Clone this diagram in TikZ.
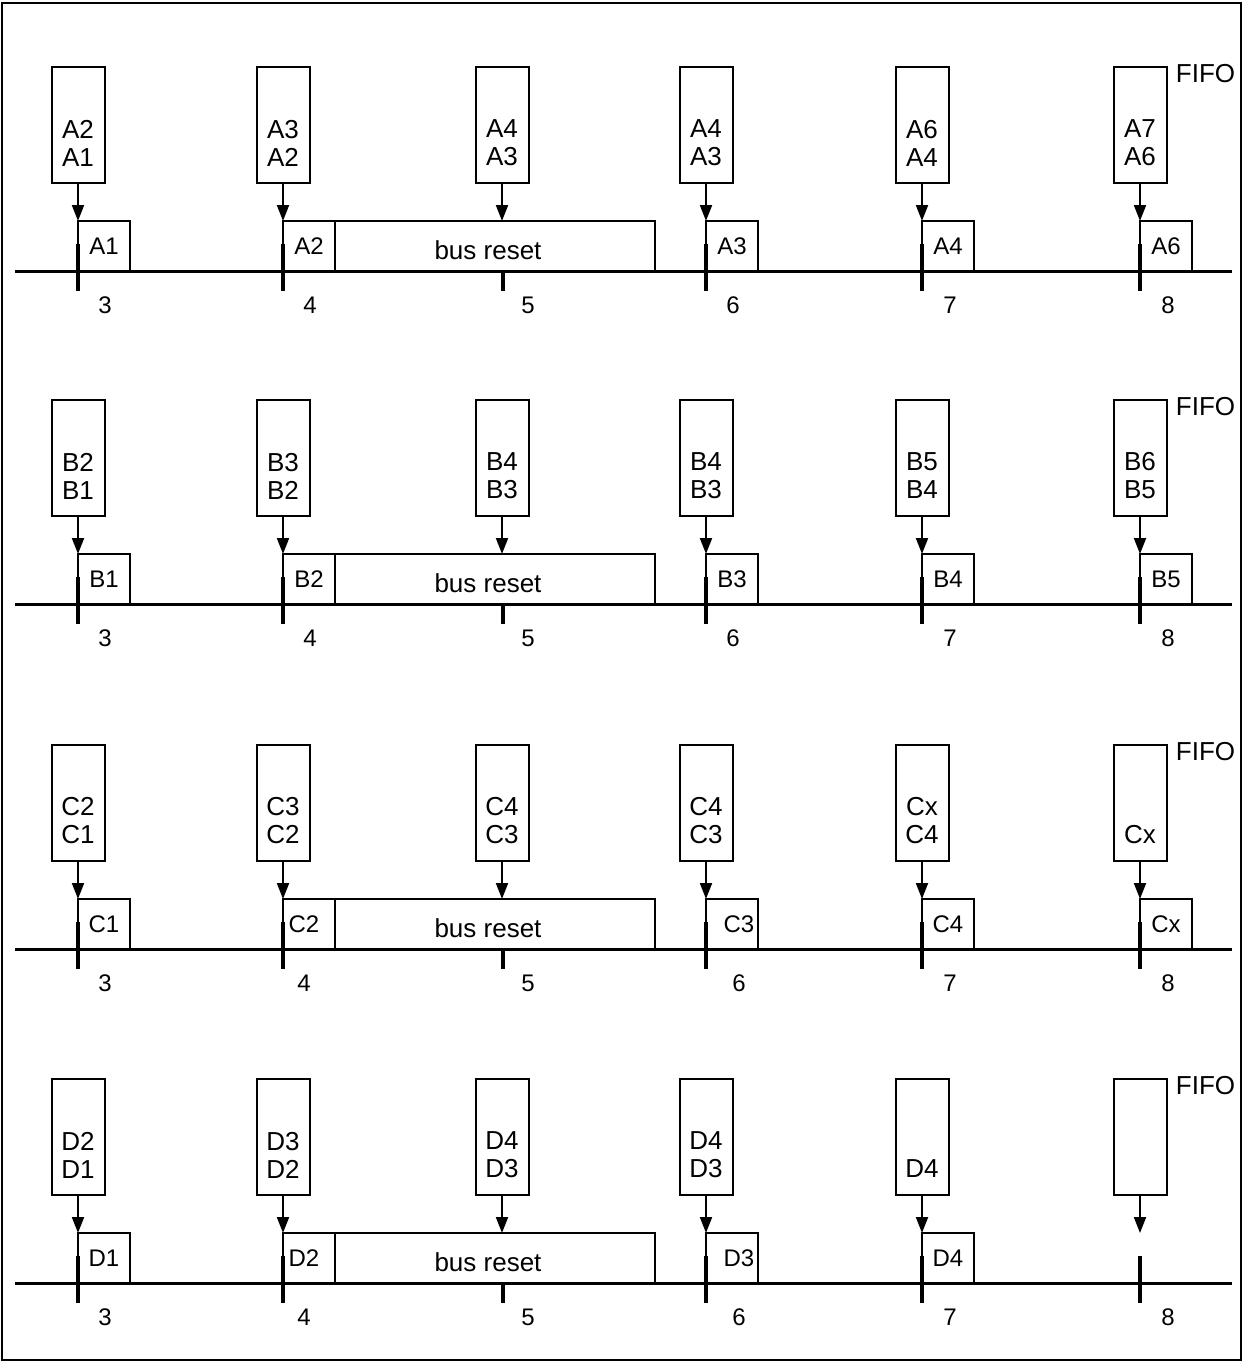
\documentclass[tikz,border=0pt]{standalone}
\usepackage{fontspec}
\setmainfont{Liberation Sans}
\usetikzlibrary{arrows.meta,positioning}
\tikzset{
  fifo/.style  ={draw, line width=1pt, minimum width=26.5pt, minimum height=58pt, inner sep=0pt},
  ftxt/.style  ={align=center, inner sep=0pt, font=\fontsize{13}{14}\selectfont},
  slot/.style  ={draw, line width=1pt, minimum width=26pt, minimum height=25pt, inner sep=0pt,
                 outer sep=0pt, anchor=south west, font=\fontsize{12}{14}\selectfont},
  rst/.style   ={slot, minimum width=160pt, font=\fontsize{13}{14}\selectfont},
  num/.style   ={inner sep=0pt, font=\fontsize{12}{14}\selectfont},
  tag/.style   ={anchor=north west, inner sep=0pt, font=\fontsize{13}{14}\selectfont},
  ar/.style    ={-{Triangle[length=8pt,width=6pt]}, line width=1pt},
  tck/.style   ={line width=2pt},
  bus/.style   ={line width=1.5pt},
}
\begin{document}
\begin{tikzpicture}[x=0.5pt, y=-0.5pt]
\useasboundingbox (0,0) rectangle (1243,1362);
\draw[line width=1pt] (2,3) rectangle (1241,1360);

% row A
\draw[bus] (15,271) -- (1232,271);
\node[fifo] (fa1) at (78,125) {};   \node[ftxt] (fa1t) at ([yshift=-9pt]fa1.center) {A2\\A1};
\node[fifo] (fa2) at (283,125) {};  \node[ftxt] (fa2t) at ([yshift=-9pt]fa2.center) {A3\\A2};
\node[fifo] (fa3) at (502,125) {};  \node[ftxt] (fa3t) at ([yshift=-9pt]fa3.center) {A4\\A3};
\node[fifo] (fa4) at (706,125) {};  \node[ftxt] (fa4t) at ([yshift=-9pt]fa4.center) {A4\\A3};
\node[fifo] (fa5) at (922,125) {};  \node[ftxt] (fa5t) at ([yshift=-9pt]fa5.center) {A6\\A4};
\node[fifo] (fa6) at (1140,125) {}; \node[ftxt] (fa6t) at ([yshift=-9pt]fa6.center) {A7\\A6};
\node[tag] (fifoa) at ([xshift=4pt,yshift=1pt]fa6.north east) {FIFO};
\node[slot] (sa1) at (78,271) {A1};
\node[slot] (sa2) at (283,271) {A2};
\node[rst, right=0pt of sa2] (ra) {\smash{\raisebox{-6.5pt}{bus reset}}\hspace*{7pt}};
\node[slot] (sa4) at (706,271) {A3};
\node[slot] (sa5) at (922,271) {A4};
\node[slot] (sa6) at (1140,271) {A6};
\draw[ar] (fa1.south) -- (sa1.north west); \draw[ar] (fa2.south) -- (sa2.north west);
\draw[ar] (fa3.south) -- (fa3.south |- ra.north); \draw[ar] (fa4.south) -- (sa4.north west);
\draw[ar] (fa5.south) -- (sa5.north west); \draw[ar] (fa6.south) -- (sa6.north west);
\draw[tck] (78,244) -- (78,291); \draw[tck] (283,244) -- (283,291); \draw[tck] (503,271) -- (503,291);
\draw[tck] (706,244) -- (706,291); \draw[tck] (922,244) -- (922,291); \draw[tck] (1140,244) -- (1140,291);
\node[num] (na1) at (105,305) {3};  \node[num] (na2) at (310,305) {4};  \node[num] (na3) at (528,305) {5};
\node[num] (na4) at (733,305) {6};  \node[num] (na5) at (950,305) {7};  \node[num] (na6) at (1168,305) {8};

% row B
\draw[bus] (15,604) -- (1232,604);
\node[fifo] (fb1) at (78,458) {};   \node[ftxt] (fb1t) at ([yshift=-9pt]fb1.center) {B2\\B1};
\node[fifo] (fb2) at (283,458) {};  \node[ftxt] (fb2t) at ([yshift=-9pt]fb2.center) {B3\\B2};
\node[fifo] (fb3) at (502,458) {};  \node[ftxt] (fb3t) at ([yshift=-9pt]fb3.center) {B4\\B3};
\node[fifo] (fb4) at (706,458) {};  \node[ftxt] (fb4t) at ([yshift=-9pt]fb4.center) {B4\\B3};
\node[fifo] (fb5) at (922,458) {};  \node[ftxt] (fb5t) at ([yshift=-9pt]fb5.center) {B5\\B4};
\node[fifo] (fb6) at (1140,458) {}; \node[ftxt] (fb6t) at ([yshift=-9pt]fb6.center) {B6\\B5};
\node[tag] (fifob) at ([xshift=4pt,yshift=1pt]fb6.north east) {FIFO};
\node[slot] (sb1) at (78,604) {B1};
\node[slot] (sb2) at (283,604) {B2};
\node[rst, right=0pt of sb2] (rb) {\smash{\raisebox{-6.5pt}{bus reset}}\hspace*{7pt}};
\node[slot] (sb4) at (706,604) {B3};
\node[slot] (sb5) at (922,604) {B4};
\node[slot] (sb6) at (1140,604) {B5};
\draw[ar] (fb1.south) -- (sb1.north west); \draw[ar] (fb2.south) -- (sb2.north west);
\draw[ar] (fb3.south) -- (fb3.south |- rb.north); \draw[ar] (fb4.south) -- (sb4.north west);
\draw[ar] (fb5.south) -- (sb5.north west); \draw[ar] (fb6.south) -- (sb6.north west);
\draw[tck] (78,577) -- (78,624); \draw[tck] (283,577) -- (283,624); \draw[tck] (503,604) -- (503,624);
\draw[tck] (706,577) -- (706,624); \draw[tck] (922,577) -- (922,624); \draw[tck] (1140,577) -- (1140,624);
\node[num] (nb1) at (105,638) {3};  \node[num] (nb2) at (310,638) {4};  \node[num] (nb3) at (528,638) {5};
\node[num] (nb4) at (733,638) {6};  \node[num] (nb5) at (950,638) {7};  \node[num] (nb6) at (1168,638) {8};

% row C
\draw[bus] (15,949) -- (1232,949);
\node[fifo] (fc1) at (78,803) {};   \node[ftxt] (fc1t) at ([yshift=-9pt]fc1.center) {C2\\C1};
\node[fifo] (fc2) at (283,803) {};  \node[ftxt] (fc2t) at ([yshift=-9pt]fc2.center) {C3\\C2};
\node[fifo] (fc3) at (502,803) {};  \node[ftxt] (fc3t) at ([yshift=-9pt]fc3.center) {C4\\C3};
\node[fifo] (fc4) at (706,803) {};  \node[ftxt] (fc4t) at ([yshift=-9pt]fc4.center) {C4\\C3};
\node[fifo] (fc5) at (922,803) {};  \node[ftxt] (fc5t) at ([yshift=-9pt]fc5.center) {Cx\\C4};
\node[fifo] (fc6) at (1140,803) {}; \node[ftxt] (fc6t) at ([yshift=-16pt]fc6.center) {Cx};
\node[tag] (fifoc) at ([xshift=4pt,yshift=1pt]fc6.north east) {FIFO};
\node[slot] (sc1) at (78,949) {C1};
\node[slot] (sc2) at (283,949) {C2\hspace*{5pt}};
\node[rst, right=0pt of sc2] (rc) {\smash{\raisebox{-6.5pt}{bus reset}}\hspace*{7pt}};
\node[slot] (sc4) at (706,949) {\hspace*{7pt}C3};
\node[slot] (sc5) at (922,949) {C4};
\node[slot] (sc6) at (1140,949) {Cx};
\draw[ar] (fc1.south) -- (sc1.north west); \draw[ar] (fc2.south) -- (sc2.north west);
\draw[ar] (fc3.south) -- (fc3.south |- rc.north); \draw[ar] (fc4.south) -- (sc4.north west);
\draw[ar] (fc5.south) -- (sc5.north west); \draw[ar] (fc6.south) -- (sc6.north west);
\draw[tck] (78,922) -- (78,969); \draw[tck] (283,922) -- (283,969); \draw[tck] (503,949) -- (503,969);
\draw[tck] (706,922) -- (706,969); \draw[tck] (922,922) -- (922,969); \draw[tck] (1140,922) -- (1140,969);
\node[num] (nc1) at (105,983) {3};  \node[num] (nc2) at (304,983) {4};  \node[num] (nc3) at (528,983) {5};
\node[num] (nc4) at (739,983) {6};  \node[num] (nc5) at (950,983) {7};  \node[num] (nc6) at (1168,983) {8};

% row D
\draw[bus] (15,1283) -- (1232,1283);
\node[fifo] (fd1) at (78,1137) {};   \node[ftxt] (fd1t) at ([yshift=-9pt]fd1.center) {D2\\D1};
\node[fifo] (fd2) at (283,1137) {};  \node[ftxt] (fd2t) at ([yshift=-9pt]fd2.center) {D3\\D2};
\node[fifo] (fd3) at (502,1137) {};  \node[ftxt] (fd3t) at ([yshift=-9pt]fd3.center) {D4\\D3};
\node[fifo] (fd4) at (706,1137) {};  \node[ftxt] (fd4t) at ([yshift=-9pt]fd4.center) {D4\\D3};
\node[fifo] (fd5) at (922,1137) {};  \node[ftxt] (fd5t) at ([yshift=-16pt]fd5.center) {D4};
\node[fifo] (fd6) at (1140,1137) {};
\node[tag] (fifod) at ([xshift=4pt,yshift=1pt]fd6.north east) {FIFO};
\node[slot] (sd1) at (78,1283) {D1};
\node[slot] (sd2) at (283,1283) {D2\hspace*{5pt}};
\node[rst, right=0pt of sd2] (rd) {\smash{\raisebox{-6.5pt}{bus reset}}\hspace*{7pt}};
\node[slot] (sd4) at (706,1283) {\hspace*{7pt}D3};
\node[slot] (sd5) at (922,1283) {D4};
\coordinate (sd6) at (1140,1233);
\draw[ar] (fd1.south) -- (sd1.north west); \draw[ar] (fd2.south) -- (sd2.north west);
\draw[ar] (fd3.south) -- (fd3.south |- rd.north); \draw[ar] (fd4.south) -- (sd4.north west);
\draw[ar] (fd5.south) -- (sd5.north west); \draw[ar] (fd6.south) -- (sd6);
\draw[tck] (78,1256) -- (78,1303); \draw[tck] (283,1256) -- (283,1303); \draw[tck] (503,1283) -- (503,1303);
\draw[tck] (706,1256) -- (706,1303); \draw[tck] (922,1256) -- (922,1303); \draw[tck] (1140,1256) -- (1140,1303);
\node[num] (nd1) at (105,1317) {3};  \node[num] (nd2) at (304,1317) {4};  \node[num] (nd3) at (528,1317) {5};
\node[num] (nd4) at (739,1317) {6};  \node[num] (nd5) at (950,1317) {7};  \node[num] (nd6) at (1168,1317) {8};
\end{tikzpicture}
\end{document}
